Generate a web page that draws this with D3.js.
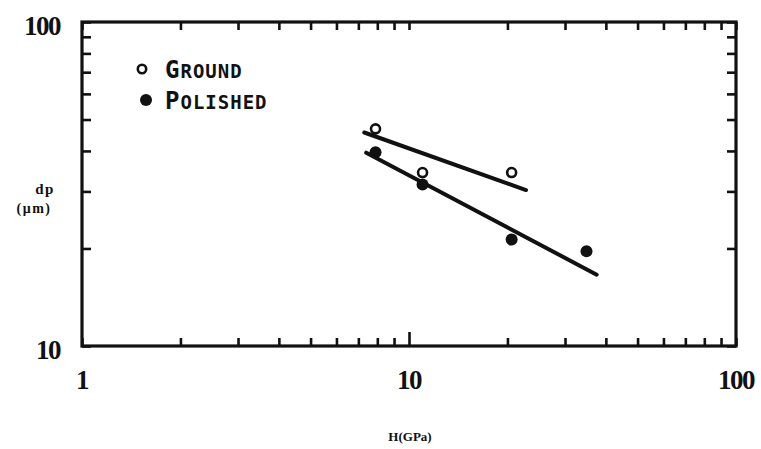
<!DOCTYPE html>
<html><head><meta charset="utf-8">
<script src="https://cdn.jsdelivr.net/npm/d3@7"></script>
<style>body{margin:0;background:#fff}</style>
</head><body><svg id="c" width="761" height="449"></svg>
<script>
// ---- data ----
const groundH = [7.9, 11.0, 20.6];
const groundDp = [46.8, 34.3, 34.3];
const polishedH = [7.9, 11.0, 20.6, 34.9];
const polishedDp = [39.6, 31.5, 21.3, 19.6];
const groundFitH = [7.3, 22.8];
const groundFitDp = [45.6, 30.3];
const polishedFitH = [7.4, 37.5];
const polishedFitDp = [39.5, 16.6];
const xTickLabels = [1, 10, 100];
const yTickLabels = [10, 100];
const legendFirst = ["G", "P"];
const legendRest = ["ROUND", "OLISHED"];

const svg = d3.select("#c");
const L = 82, R = 736, T = 22, B = 346;
const x = d3.scaleLog().domain([1, 100]).range([L, R]);
const y = d3.scaleLog().domain([10, 100]).range([B, T]);

const black = "#111";
const tickStyle = g => {
  g.select(".domain").remove();
  g.selectAll(".tick line").attr("stroke", black).attr("stroke-width", 2.6);
  g.selectAll(".tick text").remove();
};

svg.append("g").attr("transform", `translate(0,${B})`)
  .call(d3.axisBottom(x).tickValues(x.ticks()).tickSizeInner(-8).tickSizeOuter(0).tickFormat(""))
  .call(tickStyle)
  .call(g => g.selectAll(".tick line").filter(d => d === 10).attr("y2", -14));
svg.append("g").attr("transform", `translate(0,${T})`)
  .call(d3.axisTop(x).tickValues(x.ticks()).tickSizeInner(-8).tickSizeOuter(0).tickFormat(""))
  .call(tickStyle);
svg.append("g").attr("transform", `translate(${L},0)`)
  .call(d3.axisLeft(y).tickValues(y.ticks()).tickSizeInner(-9).tickSizeOuter(0).tickFormat(""))
  .call(tickStyle);
svg.append("g").attr("transform", `translate(${R},0)`)
  .call(d3.axisRight(y).tickValues(y.ticks()).tickSizeInner(-9).tickSizeOuter(0).tickFormat(""))
  .call(tickStyle);

// frame
svg.append("rect").attr("x", L).attr("y", T).attr("width", R - L).attr("height", B - T)
  .attr("fill", "none").attr("stroke", black).attr("stroke-width", 3.2);

// tick labels
const numFont = "'Liberation Serif', serif";
svg.selectAll(".xl").data(xTickLabels).join("text")
  .attr("x", d => x(d)).attr("y", 389).attr("text-anchor", "middle")
  .attr("font-family", numFont).attr("font-weight", "bold").attr("font-size", 27)
  .attr("letter-spacing", -1.5).attr("fill", black).text(d => d);
svg.selectAll(".yl").data(yTickLabels).join("text")
  .attr("x", 60).attr("y", d => y(d) + 13).attr("text-anchor", "end")
  .attr("font-family", numFont).attr("font-weight", "bold").attr("font-size", 27)
  .attr("letter-spacing", -1.5).attr("fill", black).text(d => d);

// axis titles
svg.append("text").attr("x", 410).attr("y", 441).attr("text-anchor", "middle")
  .attr("font-family", numFont).attr("font-weight", "bold").attr("font-size", 13)
  .attr("fill", black).text("H(GPa)");
svg.append("text").attr("x", 45).attr("y", 194).attr("text-anchor", "middle")
  .attr("font-family", numFont).attr("font-weight", "bold").attr("font-size", 15)
  .attr("letter-spacing", 1.5).attr("fill", black).text("dp");
svg.append("text").attr("x", 34).attr("y", 213).attr("text-anchor", "middle")
  .attr("font-family", numFont).attr("font-weight", "bold").attr("font-size", 14)
  .attr("letter-spacing", 1.5).attr("fill", black).text("(μm)");

// fit lines
const line = d3.line().x(d => x(d[0])).y(d => y(d[1]));
svg.append("path").datum(d3.zip(groundFitH, groundFitDp)).attr("d", line)
  .attr("fill", "none").attr("stroke", black).attr("stroke-width", 4).attr("stroke-linecap", "round");
svg.append("path").datum(d3.zip(polishedFitH, polishedFitDp)).attr("d", line)
  .attr("fill", "none").attr("stroke", black).attr("stroke-width", 4).attr("stroke-linecap", "round");

// points
svg.selectAll(".gp").data(d3.zip(groundH, groundDp)).join("circle")
  .attr("cx", d => x(d[0])).attr("cy", d => y(d[1])).attr("r", 4.5)
  .attr("fill", "#fff").attr("stroke", black).attr("stroke-width", 2.6);
svg.selectAll(".pp").data(d3.zip(polishedH, polishedDp)).join("circle")
  .attr("cx", d => x(d[0])).attr("cy", d => y(d[1])).attr("r", 6)
  .attr("fill", black);

// legend
const legFont = "'DejaVu Sans Mono', monospace";
const legY = [78, 109];
const legMarkX = [142, 146];
legendFirst.forEach((f, i) => {
  if (i === 0) {
    svg.append("circle").attr("cx", legMarkX[i]).attr("cy", legY[i] - 9).attr("r", 4.2)
      .attr("fill", "#fff").attr("stroke", black).attr("stroke-width", 2.6);
  } else {
    svg.append("circle").attr("cx", legMarkX[i]).attr("cy", legY[i] - 9).attr("r", 6).attr("fill", black);
  }
  const t = svg.append("text").attr("x", 165).attr("y", legY[i])
    .attr("font-family", legFont).attr("font-weight", "bold").attr("fill", black)
    .attr("letter-spacing", 1);
  t.append("tspan").attr("font-size", 24).text(f);
  t.append("tspan").attr("font-size", 19).text(legendRest[i]);
});
</script></body></html>
